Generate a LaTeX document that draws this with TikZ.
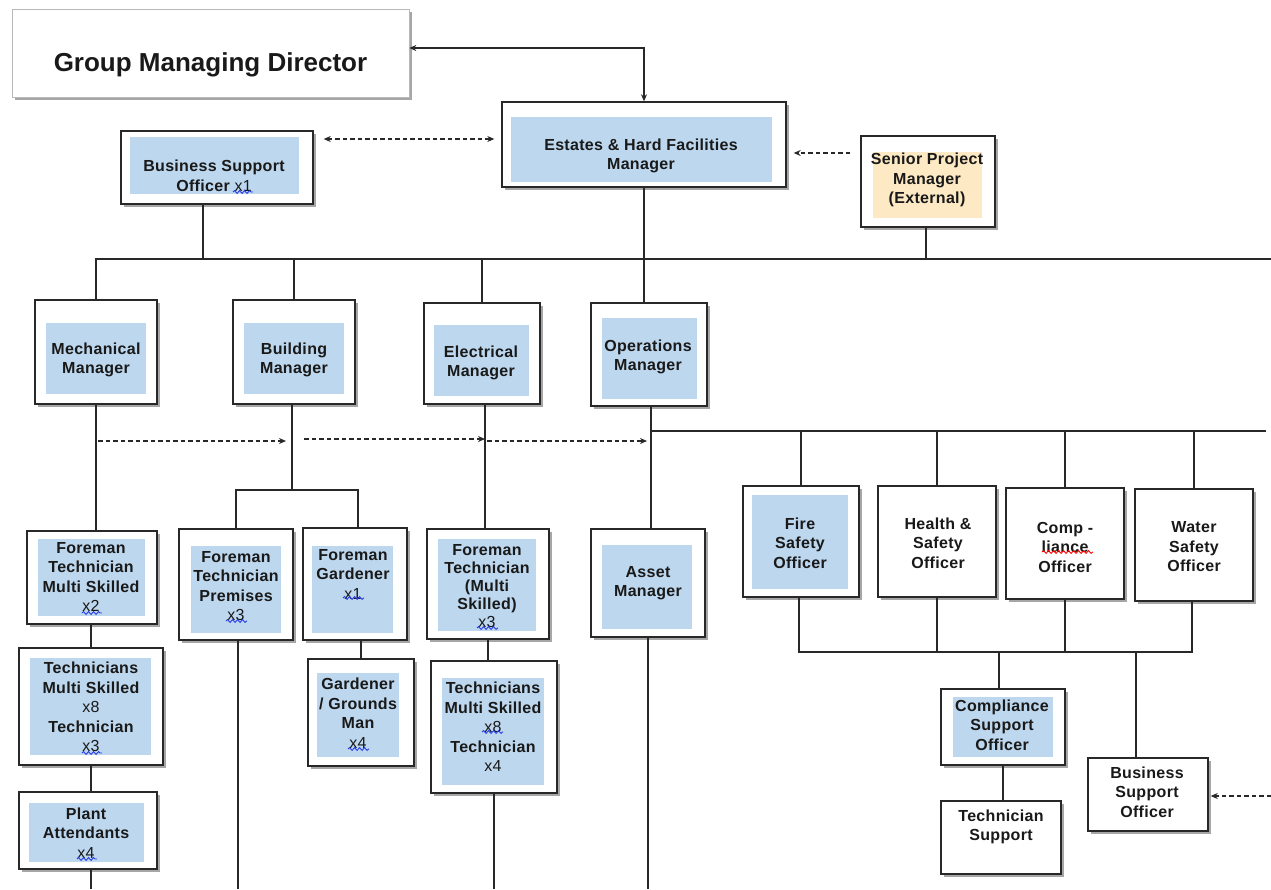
\documentclass[tikz,border=0pt]{standalone}
\usepackage{fontspec}
\setmainfont{Liberation Sans}[LetterSpace=2]
\usetikzlibrary{shadows,arrows.meta,decorations.pathmorphing}
\definecolor{inblue}{RGB}{189,215,238}
\definecolor{inyel}{RGB}{253,234,196}
\definecolor{lineC}{RGB}{40,40,40}
\definecolor{txtC}{RGB}{25,25,25}
\definecolor{sqblue}{RGB}{40,60,230}
\newcommand\cnt[1]{{\mdseries #1}}
\newcommand\fs{\fontsize{16pt}{19.5pt}\selectfont\bfseries}
\tikzset{
 box/.style={draw=lineC, line width=1.4pt, fill=white, inner sep=0pt,
   drop shadow={shadow xshift=2.5pt, shadow yshift=-2.5pt, opacity=0.35, fill=black}},
 txt/.style={font=\fs, align=center, text=txtC, inner sep=0pt},
 conn/.style={draw=lineC, line width=1.4pt},
 tip/.style={-{Stealth[length=7pt,width=6pt]}},
 dsh/.style={conn, line width=1.3pt, dash pattern=on 4.5pt off 3pt, tip},
 inb/.style={fill=inblue},
 squig/.style={draw=sqblue, line width=0.9pt, decorate, decoration={snake, amplitude=1.4pt, segment length=5pt}},
}
\begin{document}
\begin{tikzpicture}[x=1pt,y=-1pt]
\useasboundingbox (0,0) rectangle (1271,889);
\fill[white] (0,0) rectangle (1271,889);
% ---- boxes
\node[box, draw=gray!55, line width=0.6pt, minimum width=397pt, minimum height=88pt] (gmd) at (210.5,53) {};
\node[box, minimum width=284pt, minimum height=85pt] (ehfm) at (644,144.5) {};
\node[box, minimum width=192pt, minimum height=73pt] (bso) at (217,167.5) {};
\node[box, minimum width=134pt, minimum height=91pt] (spm) at (928,181.5) {};
\node[box, minimum width=122pt, minimum height=104pt] (mech) at (96,352) {};
\node[box, minimum width=122pt, minimum height=104pt] (bldg) at (294,352) {};
\node[box, minimum width=116pt, minimum height=101pt] (elec) at (482,353.5) {};
\node[box, minimum width=116pt, minimum height=103pt] (ops) at (649,354.5) {};
\node[box, minimum width=130pt, minimum height=93pt] (ftms) at (92,577.5) {};
\node[box, minimum width=144pt, minimum height=117pt] (tech) at (91,706.5) {};
\node[box, minimum width=138pt, minimum height=77pt] (plant) at (88,830.5) {};
\node[box, minimum width=114pt, minimum height=111pt] (ftp) at (236,584.5) {};
\node[box, minimum width=104pt, minimum height=112pt] (fg) at (355,584) {};
\node[box, minimum width=106pt, minimum height=107pt] (ggm) at (361,712.5) {};
\node[box, minimum width=122pt, minimum height=110pt] (ftme) at (488,584) {};
\node[box, minimum width=126pt, minimum height=132pt] (teche) at (494,727) {};
\node[box, minimum width=114pt, minimum height=108pt] (asset) at (648,583) {};
\node[box, minimum width=116pt, minimum height=111pt] (fire) at (801,541.5) {};
\node[box, minimum width=118pt, minimum height=111pt] (hs) at (937,541.5) {};
\node[box, minimum width=118pt, minimum height=111pt] (comp) at (1065,543.5) {};
\node[box, minimum width=118pt, minimum height=112pt] (water) at (1194,545) {};
\node[box, minimum width=124pt, minimum height=76pt] (cso) at (1003,727) {};
\node[box, minimum width=120pt, minimum height=73pt] (ts) at (1001,837.5) {};
\node[box, minimum width=120pt, minimum height=73pt] (bso2) at (1148,794.5) {};
% ---- inner fills
\fill[inb] (511,117) rectangle (772,182);
\fill[inb] (130,137) rectangle (299,194);
\fill[inyel] (873,152) rectangle (982,218);
\fill[inb] (46,323) rectangle (146,394);
\fill[inb] (244,323) rectangle (344,394);
\fill[inb] (434,325) rectangle (529,396);
\fill[inb] (602,318) rectangle (697,399);
\fill[inb] (38,539) rectangle (145,616);
\fill[inb] (30,658) rectangle (151,755);
\fill[inb] (29,803) rectangle (144,862);
\fill[inb] (191,546) rectangle (281,633);
\fill[inb] (312,546) rectangle (393,633);
\fill[inb] (317,673) rectangle (399,757);
\fill[inb] (438,539) rectangle (536,631);
\fill[inb] (442,678) rectangle (544,785);
\fill[inb] (602,545) rectangle (692,629);
\fill[inb] (752,495) rectangle (848,589);
\fill[inb] (953,697) rectangle (1053,757);
% ---- texts
\node[txt, font=\fontsize{26pt}{30pt}\selectfont\bfseries\addfontfeatures{LetterSpace=0}] (gmd-t) at (210.5,65) {Group Managing Director};
\node[txt] (ehfm-t) at (641,156) {Estates \& Hard Facilities\\Manager};
\node[txt] (bso-t) at (214,176) {Business Support\\Officer \cnt{x1}};
\node[txt] (spm-t) at (927,180) {Senior Project\\Manager\\(External)};
\node[txt] (mech-t) at (96,360) {Mechanical\\Manager};
\node[txt] (bldg-t) at (294,360) {Building\\Manager};
\node[txt] (elec-t) at (481,363) {Electrical\\Manager};
\node[txt] (ops-t) at (648,357) {Operations\\Manager};
\node[txt] (ftms-t) at (91,577) {Foreman\\Technician\\Multi Skilled\\\cnt{x2}};
\node[txt] (tech-t) at (91,707) {Technicians\\Multi Skilled\\\cnt{x8}\\Technician\\\cnt{x3}};
\node[txt] (plant-t) at (86,833) {Plant\\Attendants\\\cnt{x4}};
\node[txt] (ftp-t) at (236,586) {Foreman\\Technician\\Premises\\\cnt{x3}};
\node[txt] (fg-t) at (353,574) {Foreman\\Gardener\\\cnt{x1}};
\node[txt] (ggm-t) at (358,713) {Gardener\\/ Grounds\\Man\\\cnt{x4}};
\node[txt, font=\fontsize{16pt}{18pt}\selectfont\bfseries] (ftme-t) at (487,586) {Foreman\\Technician\\(Multi\\Skilled)\\\cnt{x3}};
\node[txt] (teche-t) at (493,727) {Technicians\\Multi Skilled\\\cnt{x8}\\Technician\\\cnt{x4}};
\node[txt] (asset-t) at (648,583) {Asset\\Manager};
\node[txt] (fire-t) at (800,543) {Fire\\Safety\\Officer};
\node[txt] (hs-t) at (938,543) {Health \&\\Safety\\Officer};
\node[txt] (comp-t) at (1065,547) {Comp -\\liance\\Officer};
\node[txt] (water-t) at (1194,547) {Water\\Safety\\Officer};
\node[txt] (cso-t) at (1002,725) {Compliance\\Support\\Officer};
\node[txt] (ts-t) at (1001,827) {Technician\\Support};
\node[txt] (bso2-t) at (1147,792) {Business\\Support\\Officer};
% ---- spell-check squiggles
\draw[squig] (233,192) -- (253,192);
\draw[squig] (82,613) -- (102,613);
\draw[squig] (82,753) -- (102,753);
\draw[squig] (77,859) -- (97,859);
\draw[squig] (226,621) -- (247,621);
\draw[squig] (343,598) -- (364,598);
\draw[squig] (348,749) -- (369,749);
\draw[squig] (477,628) -- (498,628);
\draw[squig] (482,732) -- (503,732);
\draw[squig, draw=red] (1042,552) -- (1093,552);
% ---- coordinates
\coordinate (trk) at (95,259);
\coordinate (trkR) at (1271,259);
\coordinate (bj) at (292,490);
\coordinate (ob) at (651,431);
\coordinate (obR) at (1266,431);
\coordinate (bb) at (799,652);
\coordinate (bot) at (0,889);
\coordinate (dl) at (0,441);
\coordinate (dl2) at (0,439);
\coordinate (edgeR) at (1271,796);
% ---- connectors
\draw[conn, line width=1.3pt, {Stealth[length=7pt,width=6pt]}-{Stealth[length=7pt,width=6pt]}] ([yshift=5pt]gmd.east) -| (ehfm.north);
\draw[dsh, {Stealth[length=7pt,width=6pt]}-{Stealth[length=7pt,width=6pt]}, shorten <=10pt, shorten >=7pt] ([yshift=28.5pt]bso.east) -- ([yshift=5.5pt]ehfm.west);
\draw[dsh, shorten <=10pt, shorten >=7pt] ([yshift=28.5pt]spm.west) -- ([yshift=-8.5pt]ehfm.east);
\draw[conn] (trk) -- (trkR);
\draw[conn] ([xshift=-14pt]bso.south) -- ([xshift=-14pt]bso.south |- trk);
\draw[conn] (ehfm.south) -- (ehfm.south |- ops.north);
\draw[conn] ([xshift=-2pt]spm.south) -- ([xshift=-2pt]spm.south |- trk);
\draw[conn] (mech.north) -- (mech.north |- trk);
\draw[conn] (bldg.north) -- (bldg.north |- trk);
\draw[conn] (elec.north) -- (elec.north |- trk);
% mechanical column
\draw[conn] (mech.south) -- (mech.south |- ftms.north);
\draw[conn] ([xshift=-1pt]ftms.south) -- ([xshift=-1pt]ftms.south |- tech.north);
\draw[conn] (tech.south) -- (tech.south |- plant.north);
\draw[conn] ([xshift=3pt]plant.south) -- ([xshift=3pt]plant.south |- bot);
% building column
\draw[conn] ([xshift=-2pt]bldg.south) -- ([xshift=-2pt]bldg.south |- bj);
\draw[conn] (ftp.north) -- (ftp.north |- bj) -- ([xshift=3pt]fg.north |- bj) -- ([xshift=3pt]fg.north);
\draw[conn] ([xshift=2pt]ftp.south) -- ([xshift=2pt]ftp.south |- bot);
\draw[conn] (ggm.north) -- (ggm.north |- fg.south);
% electrical column
\draw[conn] ([xshift=3pt]elec.south) -- ([xshift=3pt]elec.south |- ftme.north);
\draw[conn] (ftme.south) -- (ftme.south |- teche.north);
\draw[conn] (teche.south) -- (teche.south |- bot);
% operations
\draw[conn] ([xshift=2pt]ops.south) -- ([xshift=2pt]ops.south |- asset.north);
\draw[conn] (asset.south) -- (asset.south |- bot);
\draw[conn] (ob) -- (obR);
\draw[conn] (fire.north) -- (fire.north |- ob);
\draw[conn] (hs.north) -- (hs.north |- ob);
\draw[conn] (comp.north) -- (comp.north |- ob);
\draw[conn] (water.north) -- (water.north |- ob);
\draw[conn] ([xshift=-2pt]fire.south) -- ([xshift=-2pt]fire.south |- bb) -- ([xshift=-2pt]water.south |- bb) -- ([xshift=-2pt]water.south);
\draw[conn] (hs.south) -- (hs.south |- bb);
\draw[conn] (comp.south) -- (comp.south |- bb);
\draw[conn] ([xshift=-4pt]cso.north) -- ([xshift=-4pt]cso.north |- bb);
\draw[conn] ([xshift=-12pt]bso2.north) -- ([xshift=-12pt]bso2.north |- bb);
\draw[conn] (cso.south) -- (cso.south |- ts.north);
\draw[dsh, shorten >=2pt] (edgeR) -- (bso2.east |- edgeR);
% dashed lateral arrows
\draw[dsh, shorten <=2pt, shorten >=6pt] (mech.south |- dl) -- ([xshift=-2pt]bldg.south |- dl);
\draw[dsh, shorten <=12pt] ([xshift=-2pt]bldg.south |- dl2) -- ([xshift=3pt]elec.south |- dl2);
\draw[dsh, shorten <=2pt, shorten >=4pt] ([xshift=3pt]elec.south |- dl) -- ([xshift=2pt]ops.south |- dl);
\end{tikzpicture}
\end{document}
